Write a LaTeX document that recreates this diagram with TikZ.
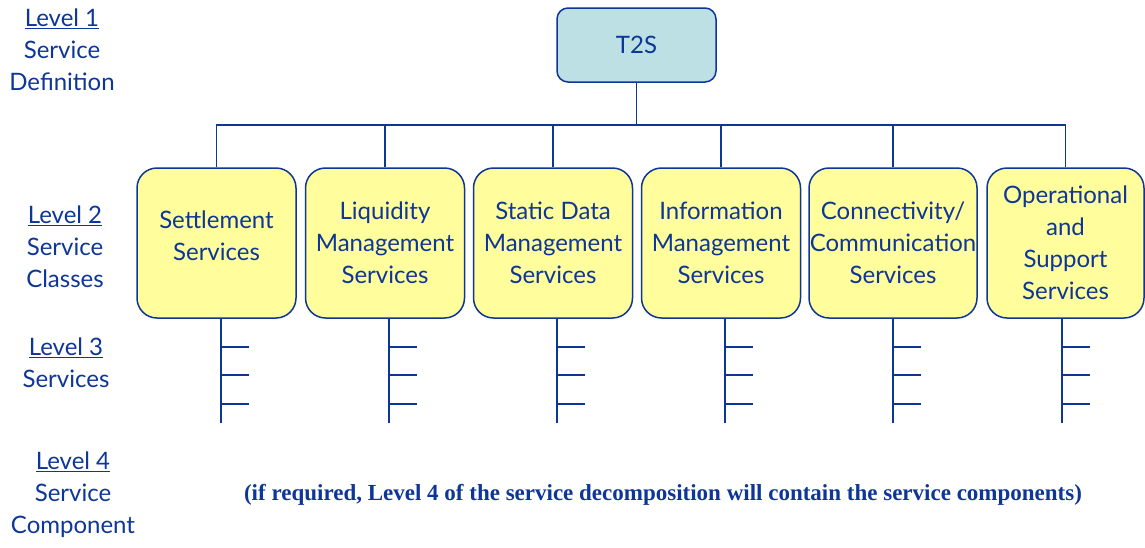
\documentclass[tikz,border=0pt]{standalone}
\usepackage{fontspec}
\setmainfont{Lato}
\newfontfamily\notefont{Liberation Serif}
\definecolor{lineblue}{RGB}{14,54,150}
\definecolor{tealfill}{RGB}{189,224,228}
\definecolor{yellowfill}{RGB}{255,253,156}

\begin{document}
\begin{tikzpicture}[x=1pt,y=-1pt,
		every node/.style={text=lineblue, font=\fontsize{24}{32}\selectfont, align=center, inner sep=0pt},
		topbox/.style={draw=lineblue, line width=1.5pt, fill=tealfill, rounded corners=11pt, minimum width=159pt, minimum height=74pt},
		classbox/.style={draw=lineblue, line width=1.5pt, fill=yellowfill, rounded corners=20pt, minimum width=159pt, minimum height=150pt},
		link/.style={draw=lineblue, line width=1.5pt}]
		\useasboundingbox (0,0) rectangle (1145,547);
		\node (lev1) at (62,50) {\underline{Level 1}\\Service\\Definition};
		\node (lev2) at (65,247) {\underline{Level 2}\\Service\\Classes};
		\node (lev3) at (66,363) {\underline{Level 3}\\Services};
		\node (lev4) at (73,495) {\underline{Level 4}\\Service\\Component};
		\node [topbox] (t2s) at (636.5,45) {T2S};
		\node [classbox] (cls1) at (216.5,243) {Settlement\\Services\\[-18pt]};
		\node [classbox] (cls2) at (385,243) {Liquidity\\Management\\Services};
		\node [classbox] (cls3) at (553,243) {Static Data\\Management\\Services};
		\node [classbox] (cls4) at (721,243) {Information\\Management\\Services};
		\node [classbox, minimum width=168pt] (cls5) at (893,243) {Connectivity/\\Communication\\Services};
		\node [classbox, minimum width=157pt] (cls6) at (1065.5,243) {Operational\\and\\Support\\Services};
		\coordinate (bus) at (636.5,125);
		\draw [link] (t2s) -- (bus);
		\foreach \n in {1,...,6}
			\draw [link] (bus) -| (cls\n.north);
		\foreach \n/\dx in {1/4.5,2/4,3/4,4/4,5/0,6/-3.5} {
			\draw [link] ([xshift=\dx pt]cls\n.south) coordinate (s\n) -- ++(0,104);
			\draw [link] (s\n) ++(0,28) -- ++(28,0);
			\draw [link] (s\n) ++(0,56) -- ++(28,0);
			\draw [link] (s\n) ++(0,85) -- ++(28,0);
		}
		\node [font=\notefont\bfseries\fontsize{23}{27}\selectfont] (note) at (663,495) {(if required, Level 4 of the service decomposition will contain the service components)};
	\end{tikzpicture}
\end{document}
